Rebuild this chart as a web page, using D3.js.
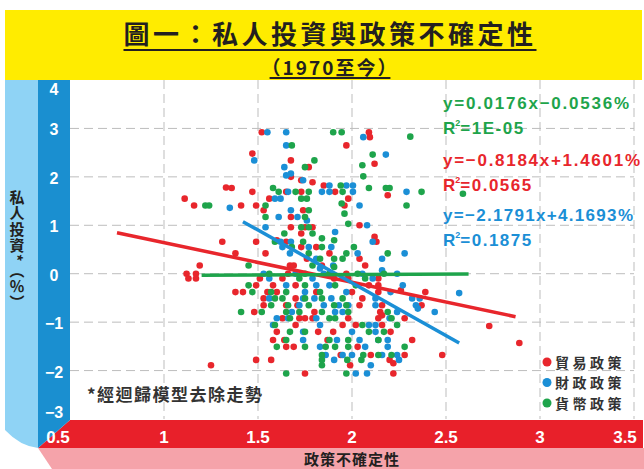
<!DOCTYPE html>
<html>
<head>
<meta charset="utf-8">
<script src="https://cdn.jsdelivr.net/npm/d3@7"></script>
<style>
  body { margin: 0; background: #fff; }
  text { font-family: "Liberation Sans", Arial, sans-serif; font-weight: bold; }
  .cjk { font-family: "Noto Sans CJK TC", "Noto Sans CJK SC", sans-serif; font-weight: bold; }
</style>
</head>
<body>
<div id="chart"></div>
<script>
var W = 644, H = 469;

// series names and colours
var seriesNames = ["貿易政策", "財政政策", "貨幣政策"];
var seriesColors = ["#e8262c", "#1b8fd6", "#1ea44b"];

// tick labels
var xTicks = [0.5, 1, 1.5, 2, 2.5, 3, 3.5];
var yTicks = [-3, -2, -1, 0, 1, 2, 3, 4];

// trend lines: slope, intercept, x start, x end
var trendSlope = [-0.8184, -2.1791, 0.0176];
var trendIntercept = [1.4601, 4.1693, -0.0536];
var trendFrom = [0.75, 1.42, 1.2];
var trendTo = [2.87, 2.57, 2.62];
var eqLabels = ["y=−0.8184x+1.4601%", "y=−2.1791x+4.1693%", "y=0.0176x−0.0536%"];
var r2Labels = ["=0.0565", "=0.1875", "=1E-05"];

// scatter: [policy uncertainty, private investment %]
var tradePts = [
  [1.52,2.92],[2.09,2.92],[2.095,2.82],[1.97,2.65],[1.47,2.48],[1.675,2.34],[2.12,2.27],[1.77,2.20],
  [1.675,2.00],[1.73,1.93],[1.79,1.89],[1.85,1.82],[1.33,1.78],[1.36,1.77],[1.47,1.69],[1.65,1.69],
  [1.73,1.69],[1.91,1.69],[2.19,1.62],[1.11,1.55],[1.56,1.55],[1.98,1.55],[1.16,1.41],[1.41,1.41],
  [1.49,1.41],[1.96,1.41],[1.74,1.31],[1.53,1.31],[1.675,1.17],[2.04,1.00],[1.675,0.96],[1.75,0.96],
  [1.79,0.96],[1.73,0.83],[2.12,0.76],[1.60,0.69],[1.31,0.66],[1.49,0.66],[1.65,0.66],[2.13,0.66],
  [1.73,0.55],[1.81,0.55],[1.54,0.42],[1.88,0.42],[1.38,0.42],[1.76,0.31],[2.04,0.31],[1.19,0.17],
  [1.67,0.17],[1.69,0.17],[1.84,0.17],[2.07,0.17],[1.12,0.00],[1.17,0.00],[1.66,0.00],[1.97,0.00],
  [1.13,-0.10],[1.17,-0.10],[1.51,-0.10],[1.63,-0.10],[1.905,-0.10],[1.98,-0.10],[2.14,-0.10],
  [1.49,-0.24],[1.58,-0.24],[1.70,-0.24],[2.09,-0.24],[2.14,-0.24],[2.26,-0.34],[1.38,-0.38],
  [1.42,-0.38],[1.55,-0.38],[1.60,-0.38],[1.81,-0.38],[2.00,-0.38],[2.14,-0.38],[2.39,-0.38],
  [1.53,-0.51],[1.70,-0.51],[2.055,-0.51],[1.53,-0.65],[1.65,-0.65],[1.71,-0.65],[2.04,-0.65],
  [2.16,-0.65],[2.37,-0.65],[1.48,-0.79],[1.80,-0.79],[2.15,-0.79],[2.16,-0.86],[1.63,-0.92],
  [1.72,-0.92],[1.75,-0.92],[1.79,-0.92],[1.98,-0.92],[2.14,-0.92],[2.28,-0.92],[1.70,-1.06],
  [1.95,-1.06],[2.02,-1.06],[2.16,-1.06],[1.60,-1.20],[1.82,-1.20],[1.90,-1.20],[2.205,-1.20],
  [1.58,-1.37],[1.64,-1.37],[1.87,-1.37],[2.32,-1.37],[1.65,-1.51],[1.69,-1.51],[2.03,-1.51],
  [1.94,-1.68],[2.10,-1.68],[2.28,-1.68],[2.48,-1.68],[1.49,-1.78],[1.57,-1.78],[2.20,-1.78],
  [2.22,-1.85],[1.25,-1.89],[1.99,-1.89],[1.75,-2.06],[2.22,-2.06],[2.73,-1.08],[2.89,-1.43]
];
var fiscalPts = [
  [1.55,2.92],[1.65,2.92],[2.06,2.82],[1.65,2.65],[2.18,2.46],[1.48,2.34],[1.64,2.20],[1.675,2.07],
  [1.65,2.03],[1.74,1.93],[1.88,1.82],[1.97,1.82],[2.005,1.82],[1.66,1.69],[1.84,1.69],[1.88,1.69],
  [2.005,1.69],[2.29,1.69],[1.59,1.55],[1.62,1.55],[2.04,1.41],[1.35,1.36],[1.675,1.31],[1.61,1.17],
  [1.71,1.17],[1.76,1.10],[2.08,1.00],[1.54,0.96],[1.91,0.86],[1.62,0.66],[1.675,0.66],[2.11,0.66],
  [1.63,0.55],[1.77,0.55],[1.89,0.55],[1.67,0.42],[2.03,0.42],[2.28,0.42],[1.81,0.31],[2.16,0.31],
  [1.90,0.17],[1.83,0.11],[2.16,0.07],[1.53,0.00],[1.70,0.00],[1.85,0.00],[2.055,0.00],[2.24,0.00],
  [1.56,-0.10],[1.79,-0.10],[2.11,-0.10],[1.65,-0.24],[1.81,-0.24],[1.88,-0.24],[2.27,-0.24],
  [1.75,-0.38],[1.97,-0.38],[2.205,-0.38],[1.56,-0.51],[1.74,-0.51],[1.80,-0.51],[1.89,-0.51],
  [2.125,-0.51],[2.32,-0.51],[2.36,-0.51],[1.72,-0.65],[1.85,-0.65],[1.93,-0.65],[1.98,-0.65],
  [2.125,-0.65],[2.34,-0.65],[2.35,-0.72],[1.68,-0.79],[1.91,-0.79],[1.95,-0.79],[2.24,-0.79],
  [2.44,-0.79],[1.60,-0.92],[1.66,-0.92],[1.81,-0.92],[2.20,-0.92],[1.58,-1.06],[1.83,-1.06],
  [2.09,-1.06],[2.125,-1.06],[1.74,-1.20],[2.00,-1.20],[2.125,-1.20],[1.74,-1.37],[1.92,-1.37],
  [2.04,-1.37],[2.14,-1.37],[2.19,-1.37],[1.83,-1.51],[2.07,-1.51],[2.19,-1.51],[1.86,-1.68],
  [1.95,-1.68],[2.00,-1.68],[2.16,-1.68],[2.24,-1.68],[1.905,-1.78],[2.25,-1.78],[2.10,-1.89],
  [2.02,-2.06],[2.08,-2.06],[2.57,-0.40]
];
var monetaryPts = [
  [1.90,2.92],[1.945,2.92],[2.31,2.83],[1.68,2.65],[2.11,2.46],[1.80,2.34],[2.055,2.24],[1.75,2.20],
  [2.06,2.01],[1.94,1.82],[2.09,1.77],[2.18,1.77],[2.20,1.77],[1.58,1.77],[1.61,1.69],[1.70,1.69],
  [1.77,1.69],[1.95,1.69],[2.37,1.69],[1.73,1.55],[1.76,1.55],[1.945,1.45],[1.22,1.41],[1.24,1.41],
  [1.54,1.41],[2.29,1.41],[1.77,1.31],[1.96,1.24],[1.54,1.17],[1.75,1.17],[1.98,1.03],[1.73,0.96],
  [1.77,0.96],[1.64,0.83],[1.79,0.83],[1.84,0.73],[1.905,0.69],[1.59,0.66],[1.74,0.66],[1.68,0.55],
  [1.84,0.55],[2.01,0.55],[1.77,0.42],[1.97,0.42],[2.19,0.42],[1.83,0.31],[1.905,0.31],[1.95,0.31],
  [1.79,0.17],[1.45,0.17],[1.905,0.14],[1.56,0.00],[1.75,0.00],[1.88,0.00],[2.03,0.00],[2.17,0.00],
  [1.72,-0.10],[2.07,-0.10],[1.45,-0.24],[1.75,-0.24],[1.91,-0.24],[2.02,-0.24],[1.47,-0.38],
  [1.57,-0.38],[1.65,-0.38],[1.83,-0.38],[1.59,-0.51],[1.63,-0.51],[1.75,-0.51],[1.84,-0.51],
  [1.95,-0.51],[1.57,-0.65],[1.66,-0.65],[1.77,-0.65],[1.905,-0.65],[1.97,-0.65],[1.41,-0.79],
  [1.52,-0.79],[1.65,-0.79],[1.72,-0.79],[1.84,-0.79],[1.98,-0.79],[2.19,-0.79],[1.67,-0.92],
  [1.88,-0.92],[1.91,-0.92],[2.21,-0.92],[1.59,-1.06],[2.055,-1.06],[2.24,-1.06],[1.67,-1.20],
  [1.75,-1.20],[2.09,-1.20],[2.17,-1.20],[1.65,-1.37],[1.88,-1.37],[1.98,-1.37],[2.14,-1.37],
  [1.60,-1.51],[1.75,-1.51],[1.86,-1.51],[1.91,-1.51],[1.98,-1.51],[2.28,-1.51],[1.84,-1.68],
  [2.06,-1.68],[2.14,-1.68],[2.21,-1.68],[1.84,-1.78],[1.975,-1.78],[2.05,-1.78],[1.84,-1.89],
  [1.65,-2.06],[1.97,-2.06],[2.59,1.65]
];
var allPts = [tradePts, fiscalPts, monetaryPts];

var svg = d3.select("#chart").append("svg")
    .attr("width", W)
    .attr("height", H);

var x = d3.scaleLinear().domain([0.5, 3.5]).range([70, 634]);
var y = d3.scaleLinear().domain([-3, 4]).range([419, 80]);

// background panels
svg.append("rect").attr("x", 5).attr("y", 10).attr("width", 637).attr("height", 70).attr("fill", "#ffec00");
svg.append("path").attr("fill", "#8fd3f5")
    .attr("d", "M5,80 L38,80 L38,448 Q20,446 5,430 Z");
svg.append("path").attr("fill", "#f5a3aa")
    .attr("d", "M38,448 L644,448 L644,469 L52,469 Z");
svg.append("path").attr("fill", "#e8202a")
    .attr("d", "M70,420 L643,420 L643,448 L38,448 Z");
svg.append("path").attr("fill", "#1a8fd0")
    .attr("d", "M38,80 L70,80 L70,420 L38,448 Z");

// grid
var grid = svg.append("g").attr("stroke", "#bdbdbd").attr("stroke-width", 1).attr("stroke-dasharray", "9,5");
grid.selectAll(".gx").data(xTicks.slice(1)).enter().append("line")
    .attr("x1", function(d) { return x(d); }).attr("x2", function(d) { return x(d); })
    .attr("y1", y(4)).attr("y2", y(-3));
grid.selectAll(".gy").data(yTicks.slice(1, -1)).enter().append("line")
    .attr("x1", x(0.5)).attr("x2", x(3.5))
    .attr("y1", function(d) { return y(d); }).attr("y2", function(d) { return y(d); });

// points
allPts.forEach(function(pts, i) {
  svg.append("g").selectAll("circle").data(pts).enter().append("circle")
      .attr("cx", function(d) { return x(d[0]); })
      .attr("cy", function(d) { return y(d[1]); })
      .attr("r", 3.3)
      .attr("fill", seriesColors[i]);
});

// trend lines
[0, 1, 2].forEach(function(i) {
  svg.append("line")
      .attr("x1", x(trendFrom[i])).attr("y1", y(trendSlope[i] * trendFrom[i] + trendIntercept[i]))
      .attr("x2", x(trendTo[i])).attr("y2", y(trendSlope[i] * trendTo[i] + trendIntercept[i]))
      .attr("stroke", seriesColors[i]).attr("stroke-width", 3.5);
});

// axis labels
svg.selectAll(".xl").data(xTicks).enter().append("text")
    .attr("x", function(d, i) { return x(d) + (i == 0 ? -12 : i == xTicks.length - 1 ? -9 : 0); })
    .attr("y", 443)
    .attr("text-anchor", "middle")
    .attr("fill", "#fff").attr("font-size", 17)
    .text(function(d) { return d; });

svg.selectAll(".yl").data(yTicks).enter().append("text")
    .attr("x", 54)
    .attr("y", function(d) { return y(d) + (d == 4 ? 15 : d == -3 ? -1 : 7); })
    .attr("text-anchor", "middle")
    .attr("fill", "#fff").attr("font-size", 16)
    .text(function(d) { return d < 0 ? "−" + (-d) : d; });

// title
var t1 = svg.append("text").attr("class", "cjk")
    .attr("x", 330).attr("y", 44).attr("text-anchor", "middle")
    .attr("font-size", 26).attr("letter-spacing", 3.5).attr("fill", "#231f20")
    .text("圖一：私人投資與政策不確定性");
var b1 = t1.node().getBBox();
svg.append("line").attr("x1", b1.x).attr("x2", b1.x + b1.width).attr("y1", 50).attr("y2", 50)
    .attr("stroke", "#231f20").attr("stroke-width", 2);
var t2 = svg.append("text").attr("class", "cjk")
    .attr("x", 330).attr("y", 75).attr("text-anchor", "middle")
    .attr("font-size", 19).attr("letter-spacing", 2).attr("fill", "#231f20")
    .text("（1970至今）");
var b2 = t2.node().getBBox();
svg.append("line").attr("x1", b2.x + 8).attr("x2", b2.x + b2.width - 8).attr("y1", 78).attr("y2", 78)
    .attr("stroke", "#231f20").attr("stroke-width", 2);

// y axis title, written top to bottom
svg.append("text").attr("class", "cjk")
    .attr("x", 17).attr("y", 190)
    .style("writing-mode", "vertical-rl")
    .style("text-orientation", "mixed")
    .attr("font-size", 15).attr("letter-spacing", 1).attr("fill", "#231f20")
    .text("私人投資*（％）");

// x axis title
svg.append("text").attr("class", "cjk")
    .attr("x", 352).attr("y", 465).attr("text-anchor", "middle")
    .attr("font-size", 15).attr("letter-spacing", 1).attr("fill", "#231f20")
    .text("政策不確定性");

// equations
var eqOrder = [2, 0, 1];
var eqY = [109, 166, 221];
var eqW = [197, 190, 186];
eqOrder.forEach(function(s, k) {
  svg.append("text")
      .attr("x", 443).attr("y", eqY[k])
      .attr("font-size", 17).attr("fill", seriesColors[s])
      .attr("textLength", eqW[s]).attr("lengthAdjust", "spacing")
      .text(eqLabels[s]);
  var r = svg.append("text")
      .attr("x", 443).attr("y", eqY[k] + 25)
      .attr("font-size", 17).attr("fill", seriesColors[s]);
  r.append("tspan").text("R");
  r.append("tspan").attr("font-size", 9).attr("dy", -8).text("2");
  r.append("tspan").attr("dy", 8).attr("letter-spacing", 1.5).text(r2Labels[s]);
});

// legend
var leg = svg.append("g");
seriesNames.forEach(function(n, i) {
  leg.append("circle").attr("cx", 547).attr("cy", 362 + i * 20.5).attr("r", 4.5).attr("fill", seriesColors[i]);
  leg.append("text").attr("class", "cjk")
      .attr("x", 555).attr("y", 367.5 + i * 20.5)
      .attr("font-size", 14).attr("letter-spacing", 3.5).attr("fill", "#333")
      .text(n);
});

// note
svg.append("text").attr("class", "cjk")
    .attr("x", 87).attr("y", 401)
    .attr("font-size", 17).attr("letter-spacing", 1.5).attr("fill", "#333")
    .text("*經迴歸模型去除走勢");
</script>
</body>
</html>
